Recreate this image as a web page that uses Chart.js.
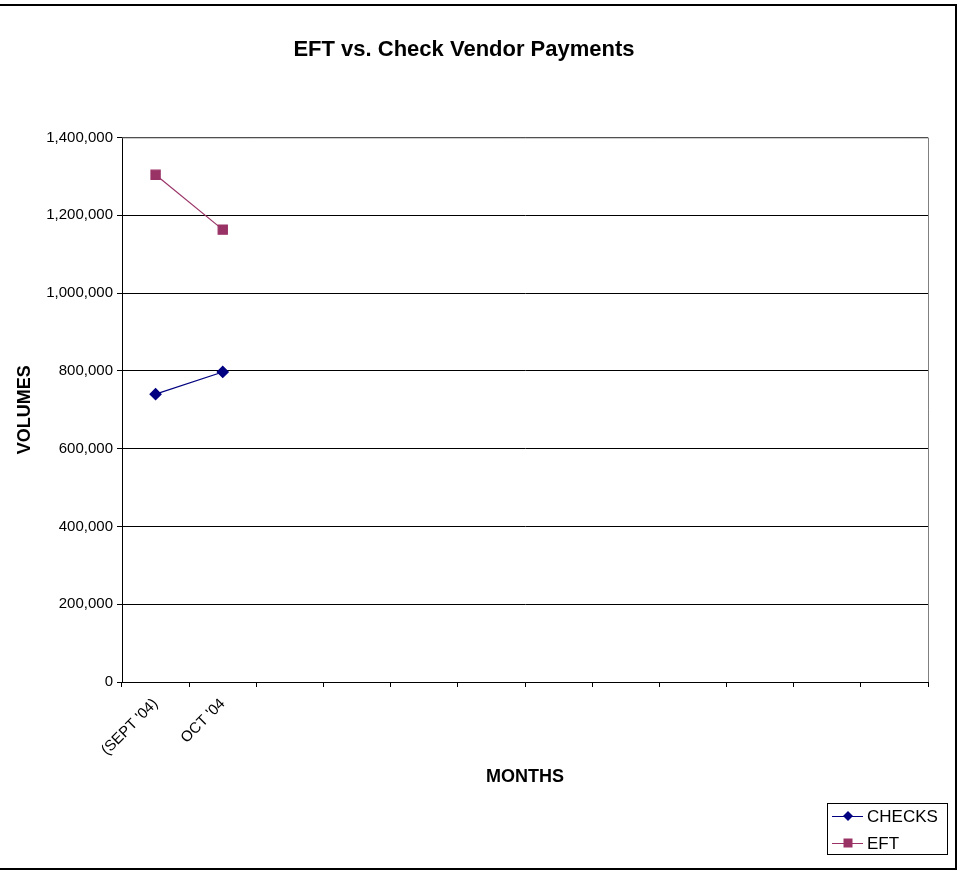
<!DOCTYPE html>
<html>
<head>
<meta charset="utf-8">
<script src="https://cdn.jsdelivr.net/npm/chart.js@4.4.1/dist/chart.umd.min.js"></script>
<style>
html,body{margin:0;padding:0;background:#fff;}
#wrap{position:relative;width:960px;height:871px;}
</style>
</head>
<body>
<div id="wrap"><canvas id="c" width="960" height="871"></canvas></div>
<script>
const categories = ["(SEPT '04)", "OCT '04", "", "", "", "", "", "", "", "", "", ""];
const checks = [740000, 797000];
const eft = [1304000, 1163000];
const yTicks = [0, 200000, 400000, 600000, 800000, 1000000, 1200000, 1400000];

const FONT = "Arial, 'Liberation Sans', sans-serif";

const frame = {
  id: 'frame',
  beforeDraw(chart) {
    const ctx = chart.ctx;
    ctx.save();
    ctx.fillStyle = '#fff';
    ctx.fillRect(0, 0, chart.width, chart.height);
    ctx.restore();
  },
  afterDraw(chart) {
    const ctx = chart.ctx;
    const a = chart.chartArea;
    ctx.save();
    // plot area border (gray top/right)
    ctx.strokeStyle = '#808080';
    ctx.lineWidth = 1;
    ctx.beginPath();
    ctx.moveTo(a.left, a.top + 0.5);
    ctx.lineTo(a.right + 0.5, a.top + 0.5);
    ctx.lineTo(a.right + 0.5, a.bottom);
    ctx.stroke();
    // outer chart border
    ctx.strokeStyle = '#000';
    ctx.lineWidth = 2;
    ctx.beginPath();
    ctx.moveTo(0, 5);
    ctx.lineTo(956, 5);
    ctx.lineTo(956, 869);
    ctx.lineTo(0, 869);
    ctx.stroke();
    // legend
    const lx = 827, ly = 803, lw = 120, lh = 51;
    ctx.lineWidth = 1;
    ctx.strokeStyle = '#000';
    ctx.strokeRect(lx + 0.5, ly + 0.5, lw, lh);
    ctx.font = '17px ' + FONT;
    ctx.textBaseline = 'middle';
    chart.data.datasets.forEach((ds, i) => {
      const yy = ly + 13 + i * 27;
      ctx.strokeStyle = ds.borderColor;
      ctx.lineWidth = 1;
      ctx.beginPath();
      ctx.moveTo(lx + 5, yy + 0.5);
      ctx.lineTo(lx + 36, yy + 0.5);
      ctx.stroke();
      ctx.fillStyle = ds.pointBackgroundColor;
      const cx = lx + 21;
      if (ds.pointStyle === 'rectRot') {
        ctx.beginPath();
        ctx.moveTo(cx, yy - 5);
        ctx.lineTo(cx + 5, yy);
        ctx.lineTo(cx, yy + 5);
        ctx.lineTo(cx - 5, yy);
        ctx.closePath();
        ctx.fill();
      } else {
        ctx.fillRect(cx - 4.5, yy - 4.5, 9, 9);
      }
      ctx.fillStyle = '#000';
      ctx.fillText(ds.label, lx + 40, yy + 1);
    });
    ctx.restore();
  }
};

new Chart(document.getElementById('c'), {
  type: 'line',
  data: {
    labels: categories,
    datasets: [
      {
        label: 'CHECKS',
        data: checks,
        borderColor: '#000080',
        backgroundColor: '#000080',
        pointBackgroundColor: '#000080',
        pointBorderColor: '#000080',
        pointStyle: 'rectRot',
        pointRadius: 5.5,
        borderWidth: 1.2,
        tension: 0
      },
      {
        label: 'EFT',
        data: eft,
        borderColor: '#993366',
        backgroundColor: '#993366',
        pointBackgroundColor: '#993366',
        pointBorderColor: '#993366',
        pointStyle: 'rect',
        pointRadius: 6.5,
        borderWidth: 1.2,
        tension: 0
      }
    ]
  },
  options: {
    responsive: false,
    animation: false,
    devicePixelRatio: 1,
    layout: { padding: { left: 0, right: 32, top: 0, bottom: 0 } },
    plugins: {
      legend: { display: false },
      tooltip: { enabled: false },
      title: {
        display: true,
        text: 'EFT vs. Check Vendor Payments',
        color: '#000',
        font: { family: FONT, size: 22, weight: 'bold' },
        padding: { top: 37, bottom: 74 }
      }
    },
    scales: {
      x: {
        type: 'category',
        offset: true,
        grid: {
          display: true,
          drawOnChartArea: false,
          drawTicks: true,
          tickLength: 5,
          color: '#000',
          offset: true
        },
        border: { display: true, color: '#000', width: 1 },
        ticks: {
          autoSkip: false,
          maxRotation: 45,
          minRotation: 45,
          color: '#000',
          font: { family: FONT, size: 15 },
          padding: 8
        },
        title: {
          display: true,
          text: 'MONTHS',
          color: '#000',
          font: { family: FONT, size: 18, weight: 'bold' },
          padding: { top: 0, bottom: 83 }
        },
        afterFit(scale) { scale.height = 871 - 682; }
      },
      y: {
        min: 0,
        max: 1400000,
        afterBuildTicks(scale) { scale.ticks = yTicks.map(v => ({ value: v })); },
        grid: {
          color: '#000',
          lineWidth: 1,
          drawTicks: true,
          tickLength: 5
        },
        border: { display: true, color: '#000', width: 1 },
        ticks: {
          color: '#000',
          font: { family: FONT, size: 15 },
          padding: 4,
          callback: v => v.toLocaleString('en-US')
        },
        title: {
          display: true,
          text: 'VOLUMES',
          color: '#000',
          font: { family: FONT, size: 18, weight: 'bold' },
          padding: { top: 14, bottom: 0 }
        },
        afterFit(scale) { scale.width = 122; }
      }
    }
  },
  plugins: [frame]
});
</script>
</body>
</html>
